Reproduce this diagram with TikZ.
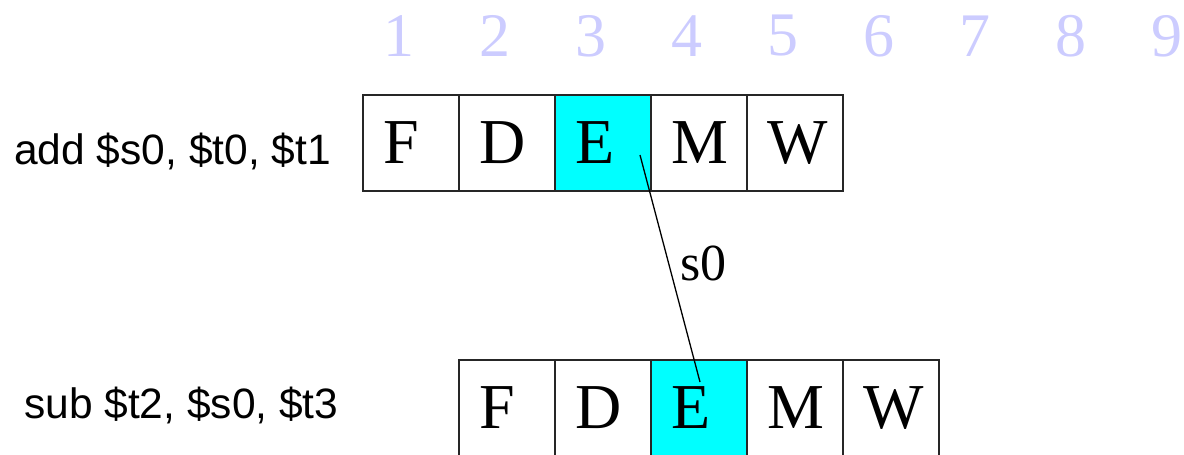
\documentclass[tikz,border=0pt]{standalone}
\usepackage{fontspec}
\setmainfont{Liberation Serif}
\newfontfamily\labelfont{Liberation Sans}
\definecolor{stagecyan}{RGB}{0,255,255}
\definecolor{cyclecol}{RGB}{204,204,255}
\tikzset{
  stagebox/.style={draw=black!85, line width=1.6pt, minimum width=96pt, minimum height=96pt,
    inner ysep=0pt, inner xsep=20pt, text width=56pt, align=left,
    font=\fontsize{64}{66}\selectfont},
  exstage/.style={stagebox, fill=stagecyan},
  cyclenum/.style={text=cyclecol, inner sep=0pt, font=\fontsize{62}{64}\selectfont},
  instr/.style={inner sep=0pt, font=\labelfont\fontsize{42.5}{44}\selectfont},
  dep/.style={line width=1.3pt, black}
}
\begin{document}
\begin{tikzpicture}[x=1pt, y=-1pt]
  \useasboundingbox (0,0) rectangle (1184,455);
  \clip (0,0) rectangle (1184,455);
  % clock cycle numbers
  \foreach \i in {1,...,9} {
    \node[cyclenum] (c\i) at ({399+96*(\i-1)},36) {\i};
  }
  % first instruction
  \node[instr, anchor=west] (i1) at (14,151) {add \$s0, \$t0, \$t1};
  \node[stagebox] (f1) at (411,143) {F};
  \node[stagebox] (d1) at (507,143) {D};
  \node[exstage]  (e1) at (603,143) {E};
  \node[stagebox] (m1) at (699,143) {M};
  \node[stagebox] (w1) at (795,143) {W};
  % second instruction
  \node[instr, anchor=west] (i2) at (24,405) {sub \$t2, \$s0, \$t3};
  \node[stagebox] (f2) at (507,408) {F};
  \node[stagebox] (d2) at (603,408) {D};
  \node[exstage]  (e2) at (699,408) {E};
  \node[stagebox] (m2) at (795,408) {M};
  \node[stagebox] (w2) at (891,408) {W};
  % forwarding of s0
  \coordinate (fwdsrc) at (640,155);
  \coordinate (fwddst) at (700,382);
  \draw[dep] (fwdsrc) -- (fwddst);
  \node[inner sep=0pt, anchor=west, font=\fontsize{52}{54}\selectfont] (s0lbl) at (680,263) {s0};
\end{tikzpicture}
\end{document}
